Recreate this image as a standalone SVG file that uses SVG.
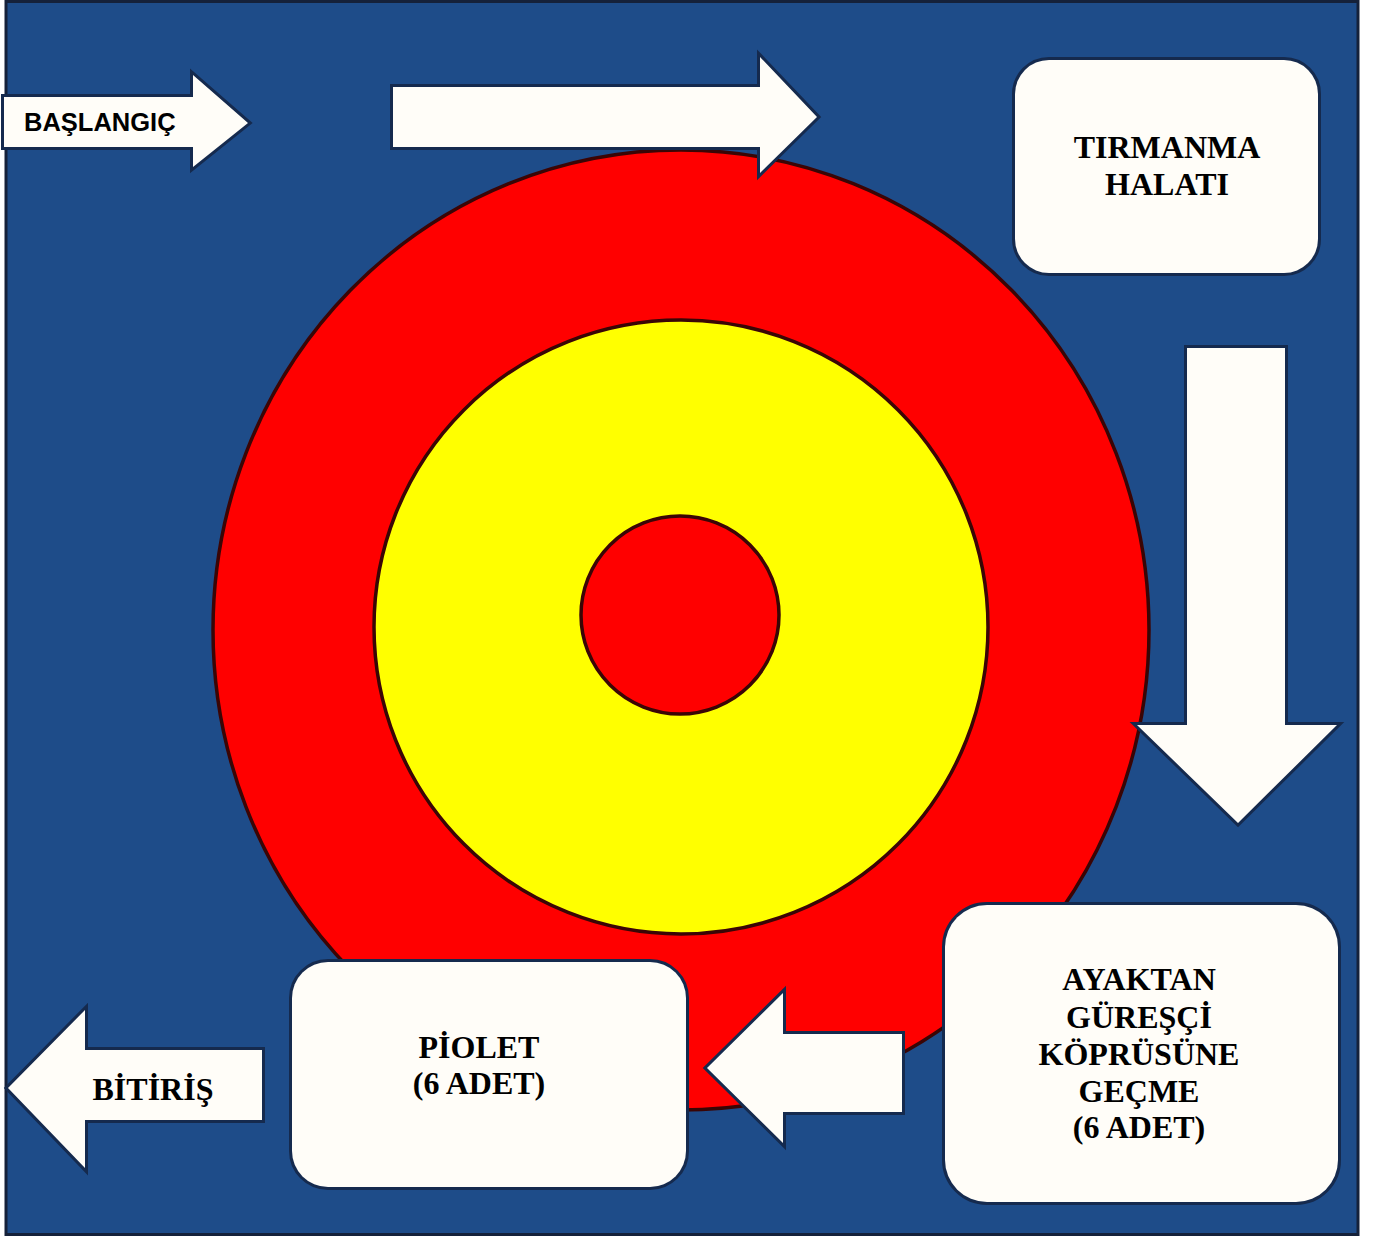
<svg xmlns="http://www.w3.org/2000/svg" width="1376" height="1236" viewBox="0 0 1376 1236">
<defs>
<style>
.bg{fill:#1e4c89;stroke:#15213a;stroke-width:3}
.ring{stroke:#3a0505;stroke-width:3.5}
.red{fill:#ff0000}
.yel{fill:#ffff00}
.shape{fill:#fffdf8;stroke:#152a4e;stroke-width:6;paint-order:stroke;stroke-linejoin:miter}
.lbl{font-family:"Liberation Serif","Times New Roman",serif;font-weight:bold;font-size:32px;fill:#000;text-anchor:middle}
.sans{font-family:"Liberation Sans",Arial,sans-serif;font-weight:bold;font-size:25.5px;fill:#000}
</style>
</defs>
<rect x="0" y="0" width="1376" height="1236" fill="#ffffff"/>
<rect class="bg" x="6" y="1.5" width="1352" height="1233"/>
<g id="target">
<ellipse class="red ring" cx="681" cy="630" rx="468" ry="480"/>
<circle class="yel ring" cx="681" cy="627" r="307"/>
<circle class="red ring" cx="680" cy="615" r="99"/>
</g>
<g id="connectors">
<path class="shape" d="M393 87 H760 V57 L817 117 L760 173 V147 H393 Z"/>
<path class="shape" d="M1187 348 H1285 V725 H1337 L1238 823 L1137 725 H1187 Z"/>
<path class="shape" d="M902 1034 H783 V993 L707 1068 L783 1143 V1112 H902 Z"/>
</g>
<g id="node-baslangic">
<path class="shape" d="M4 97 H193 V75 L248 123 L193 167 V147 H4 Z"/>
<text class="sans" x="24" y="131">BAŞLANGIÇ</text>
</g>
<g id="node-tirmanma">
<rect class="shape" x="1015" y="60" width="303" height="213" rx="34"/>
<text class="lbl" x="1167" y="158">TIRMANMA</text>
<text class="lbl" x="1167" y="195">HALATI</text>
</g>
<g id="node-ayaktan">
<rect class="shape" x="945" y="905" width="393" height="297" rx="42"/>
<text class="lbl" x="1139" y="990">AYAKTAN</text>
<text class="lbl" x="1139" y="1028">GÜREŞÇİ</text>
<text class="lbl" x="1139" y="1065">KÖPRÜSÜNE</text>
<text class="lbl" x="1139" y="1102">GEÇME</text>
<text class="lbl" x="1139" y="1138">(6 ADET)</text>
</g>
<g id="node-piolet">
<rect class="shape" x="292" y="962" width="394" height="225" rx="36"/>
<text class="lbl" x="479" y="1058">PİOLET</text>
<text class="lbl" x="479" y="1094">(6 ADET)</text>
</g>
<g id="node-bitiris">
<path class="shape" d="M262 1050 H85 V1010 L8 1088 L85 1168 V1120 H262 Z"/>
<text class="lbl" x="153" y="1100">BİTİRİŞ</text>
</g>
</svg>
